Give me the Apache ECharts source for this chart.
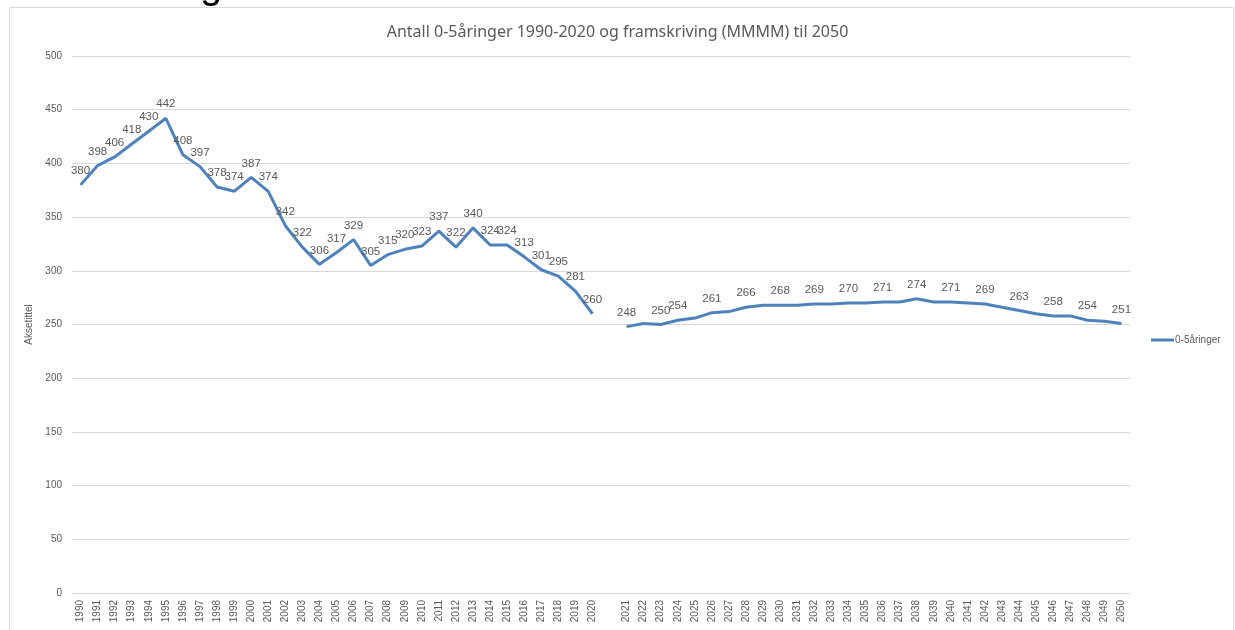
<!doctype html>
<html>
<head>
    <meta charset="utf-8">
    <title>Antall 0-5åringer</title>
    <style>
        html, body { margin: 0; padding: 0; background: #fff; }
        #Chart { width: 1235px; height: 630px; }
    </style>
</head>
<body>
    <div id="Chart"></div>
    <script src="https://cdn.jsdelivr.net/npm/echarts@6/dist/echarts.min.js"></script>
    <script>
        // historiske tall 1990-2020
        var histYears = ['1990', '1991', '1992', '1993', '1994', '1995', '1996', '1997', '1998', '1999',
            '2000', '2001', '2002', '2003', '2004', '2005', '2006', '2007', '2008', '2009',
            '2010', '2011', '2012', '2013', '2014', '2015', '2016', '2017', '2018', '2019', '2020'];
        var histValues = [380, 398, 406, 418, 430, 442, 408, 397, 378, 374,
            387, 374, 342, 322, 306, 317, 329, 305, 315, 320,
            323, 337, 322, 340, 324, 324, 313, 301, 295, 281, 260];

        // framskriving 2021-2050
        var projYears = ['2021', '2022', '2023', '2024', '2025', '2026', '2027', '2028', '2029', '2030',
            '2031', '2032', '2033', '2034', '2035', '2036', '2037', '2038', '2039', '2040',
            '2041', '2042', '2043', '2044', '2045', '2046', '2047', '2048', '2049', '2050'];
        var projValues = [248, 251, 250, 254, 256, 261, 262, 266, 268, 268,
            268, 269, 269, 270, 270, 271, 271, 274, 271, 271,
            270, 269, 266, 263, 260, 258, 258, 254, 253, 251];
        // år i framskrivingen som har dataetikett
        var projLabelled = ['2021', '2023', '2024', '2026', '2028', '2030', '2032', '2034', '2036',
            '2038', '2040', '2042', '2044', '2046', '2048', '2050'];

        var yTicks = { min: 0, max: 500, interval: 50 };

        var categories = histYears.concat(['']).concat(projYears);
        var seriesData = [];
        for (var i = 0; i < histValues.length; i++) {
            seriesData.push(histValues[i]);
        }
        seriesData.push(null);
        for (var j = 0; j < projValues.length; j++) {
            if (projLabelled.indexOf(projYears[j]) >= 0) {
                seriesData.push(projValues[j]);
            } else {
                seriesData.push({ value: projValues[j], label: { show: false } });
            }
        }

        var font = '"Liberation Sans", "DejaVu Sans", sans-serif';
        var grey = '#595959';
        var blue = '#4f81bd';

        var myChart = echarts.init(document.getElementById('Chart'));
        var option = {
            backgroundColor: '#fff',
            animation: false,
            textStyle: { fontFamily: font },
            title: {
                text: 'Antall 0-5åringer 1990-2020 og framskriving (MMMM) til 2050',
                left: 'center',
                top: 19,
                textStyle: { fontSize: 16, fontWeight: 'normal', color: grey, fontFamily: '"Noto Sans", sans-serif' }
            },
            graphic: [
                {
                    type: 'rect',
                    shape: { x: 9.5, y: 7.5, width: 1224, height: 640 },
                    style: { fill: 'none', stroke: '#d9d9d9', lineWidth: 1 },
                    silent: true
                },
                {
                    type: 'text',
                    left: 0,
                    top: -33,
                    style: { text: '0-5 år i Norge', fontSize: 40, fill: '#000', fontFamily: font }
                }
            ],
            legend: {
                data: [{ name: '0-5åringer', itemStyle: { color: blue, opacity: 1 } }],
                left: 1146,
                top: 330,
                itemWidth: 23,
                itemHeight: 3,
                icon: 'rect',
                itemGap: 2,
                textStyle: { fontSize: 10, color: grey, padding: [0, 0, 0, -4] }
            },
            grid: {
                left: 72,
                right: 105,
                top: 56,
                bottom: 37,
                containLabel: false
            },
            xAxis: {
                type: 'category',
                data: categories,
                boundaryGap: true,
                axisLine: { show: true, lineStyle: { color: '#d9d9d9', width: 1 } },
                axisTick: { show: false },
                axisLabel: { rotate: 90, fontSize: 10, color: grey, interval: 0, margin: 7 }
            },
            yAxis: {
                type: 'value',
                min: yTicks.min,
                max: yTicks.max,
                interval: yTicks.interval,
                name: 'Aksetittel',
                nameLocation: 'middle',
                nameRotate: 90,
                nameGap: 34,
                nameTextStyle: { fontSize: 10, color: grey },
                axisLine: { show: false },
                axisTick: { show: false },
                axisLabel: { fontSize: 10, color: grey, margin: 10 },
                splitLine: { lineStyle: { color: '#d9d9d9', width: 1 } }
            },
            series: [
                {
                    name: '0-5åringer',
                    type: 'line',
                    data: seriesData,
                    connectNulls: false,
                    symbol: 'circle',
                    symbolSize: 0,
                    showSymbol: true,
                    smooth: false,
                    lineStyle: { color: blue, width: 3 },
                    itemStyle: { color: blue },
                    label: {
                        show: true,
                        position: 'top',
                        distance: 8,
                        fontSize: 11.5,
                        color: grey
                    }
                }
            ]
        };
        myChart.setOption(option);
    </script>
</body>
</html>
